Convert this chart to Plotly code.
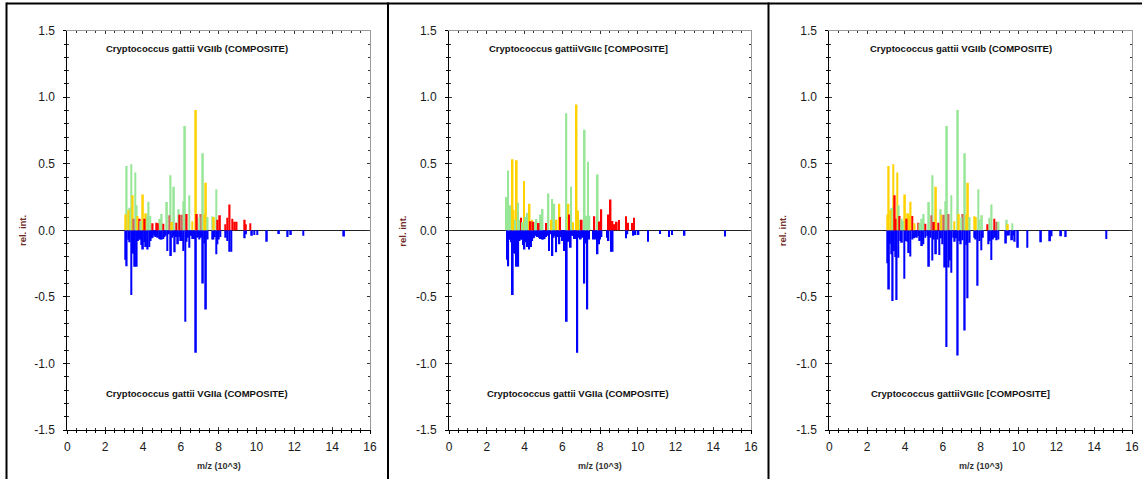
import plotly.graph_objects as go

# ---------------------------------------------------------------
# Peak lists: m/z in units of 10^3, relative intensity
# ---------------------------------------------------------------

# C. gattii VGIIb composite spectrum (upper trace of panels 1 and 3)
vgiib_mz = [3.09, 3.14, 3.22, 3.31, 3.38, 3.46, 3.51, 3.59, 3.67, 3.72,
            3.83, 3.89, 4.00, 4.09, 4.16, 4.23, 4.30, 4.39, 4.51, 4.72,
            4.79, 4.90, 4.99, 5.07, 5.27, 5.39, 5.46, 5.53, 5.64, 5.76,
            5.89, 5.93, 6.05, 6.13, 6.22, 6.31, 6.45, 6.61, 6.80, 6.85,
            6.98, 7.05, 7.17, 7.24, 7.33, 7.42, 7.68, 7.75, 7.88, 7.94,
            8.07, 8.35, 8.46, 8.58, 8.72, 8.85, 8.95, 9.38, 9.44, 9.67]
vgiib_int = [0.120, 0.483, 0.153, 0.170, 0.496, 0.263, 0.088, 0.434, 0.188, 0.108,
             0.088, 0.070, 0.270, 0.088, 0.128, 0.113, 0.215, 0.108, 0.053, 0.058,
             0.053, 0.088, 0.123, 0.050, 0.213, 0.113, 0.414, 0.063, 0.328, 0.058,
             0.158, 0.117, 0.117, 0.218, 0.784, 0.123, 0.263, 0.068, 0.905, 0.123,
             0.098, 0.123, 0.579, 0.120, 0.358, 0.100, 0.105, 0.100, 0.308, 0.080,
             0.113, 0.045, 0.095, 0.195, 0.088, 0.065, 0.065, 0.080, 0.045, 0.053]
# match class of each VGIIb peak against VGIIa (panel 1)
vgiib_vs_vgiia = ["Y", "G", "Y", "G", "G", "Y", "B", "G", "G", "Y",
                  "R", "G", "Y", "R", "Y", "G", "G", "G", "R", "R",
                  "R", "G", "G", "R", "G", "B", "G", "Y", "G", "R",
                  "G", "R", "B", "G", "G", "R", "G", "Y", "Y", "R",
                  "G", "B", "G", "Y", "Y", "G", "G", "Y", "G", "R",
                  "R", "R", "R", "R", "R", "R", "R", "R", "R", "R"]
# match class of each VGIIb peak against VGIIc (panel 3)
vgiib_vs_vgiic = ["Y", "Y", "Y", "G", "Y", "R", "R", "Y", "G", "R",
                  "G", "G", "Y", "R", "Y", "Y", "Y", "R", "Y", "R",
                  "G", "G", "G", "R", "G", "B", "G", "R", "Y", "R",
                  "G", "Y", "B", "G", "G", "B", "G", "Y", "G", "Y",
                  "G", "B", "G", "Y", "Y", "G", "Y", "Y", "G", "G",
                  "G", "R", "G", "G", "R", "B", "G", "G", "Y", "G"]

# C. gattii VGIIc composite spectrum (upper trace of panel 2)
vgiic_mz = [3.04, 3.13, 3.18, 3.23, 3.37, 3.43, 3.50, 3.59, 3.66, 3.72,
            3.82, 3.90, 3.97, 4.05, 4.14, 4.27, 4.33, 4.40, 4.47, 4.56,
            4.64, 4.75, 4.86, 4.96, 5.14, 5.27, 5.43, 5.47, 5.58, 5.70,
            5.85, 5.88, 6.22, 6.33, 6.36, 6.46, 6.57, 6.76, 6.84, 6.95,
            7.03, 7.19, 7.26, 7.36, 7.44, 7.70, 7.88, 7.96, 8.07, 8.43,
            8.56, 8.66, 8.75, 8.89, 9.00, 9.38, 9.48, 9.70, 9.81]
vgiic_int = [0.250, 0.450, 0.080, 0.188, 0.534, 0.155, 0.080, 0.526, 0.207, 0.080,
             0.095, 0.060, 0.370, 0.100, 0.130, 0.200, 0.068, 0.080, 0.065, 0.060,
             0.085, 0.055, 0.120, 0.160, 0.055, 0.277, 0.080, 0.236, 0.200, 0.080,
             0.200, 0.100, 0.880, 0.200, 0.120, 0.328, 0.060, 0.945, 0.150, 0.080,
             0.080, 0.755, 0.110, 0.515, 0.110, 0.105, 0.420, 0.067, 0.158, 0.120,
             0.232, 0.070, 0.045, 0.065, 0.078, 0.105, 0.058, 0.055, 0.095]
# match class of each VGIIc peak against VGIIa (panel 2)
vgiic_vs_vgiia = ["G", "G", "G", "G", "Y", "Y", "G", "Y", "G", "G",
                  "R", "G", "Y", "G", "G", "Y", "R", "Y", "R", "G",
                  "G", "R", "G", "G", "R", "G", "Y", "G", "G", "Y",
                  "Y", "R", "G", "Y", "R", "G", "Y", "Y", "Y", "G",
                  "R", "G", "G", "G", "G", "R", "G", "R", "R", "R",
                  "R", "R", "R", "R", "R", "R", "R", "R", "R"]

# C. gattii VGIIa composite spectrum (lower trace of panels 1 and 2)
vgiia_mz = [3.07, 3.14, 3.22, 3.30, 3.38, 3.45, 3.51, 3.58, 3.67, 3.74,
            3.80, 3.85, 3.93, 4.00, 4.07, 4.16, 4.25, 4.34, 4.41, 4.47,
            4.52, 4.58, 4.63, 4.68, 4.74, 4.79, 4.86, 4.93, 5.00, 5.07,
            5.14, 5.21, 5.29, 5.37, 5.48, 5.55, 5.62, 5.68, 5.75, 5.85,
            5.92, 5.99, 6.06, 6.13, 6.24, 6.31, 6.38, 6.45, 6.52, 6.58,
            6.65, 6.72, 6.80, 6.87, 6.93, 6.98, 7.04, 7.10, 7.17, 7.24,
            7.33, 7.42, 7.66, 7.73, 7.80, 7.87, 7.94, 8.01, 8.08, 8.38,
            8.45, 8.58, 8.67, 9.38, 9.45, 9.76, 9.88, 10.04, 10.55, 11.19,
            11.65, 11.82, 12.48, 14.63]
vgiia_int = [-0.220, -0.270, -0.070, -0.090, -0.486, -0.170, -0.175, -0.273, -0.273, -0.080,
             -0.050, -0.070, -0.110, -0.143, -0.090, -0.125, -0.143, -0.125, -0.080, -0.060,
             -0.055, -0.030, -0.040, -0.050, -0.040, -0.055, -0.065, -0.068, -0.068, -0.065,
             -0.050, -0.040, -0.155, -0.030, -0.193, -0.055, -0.040, -0.165, -0.050, -0.105,
             -0.050, -0.080, -0.080, -0.155, -0.687, -0.085, -0.055, -0.130, -0.040, -0.040,
             -0.065, -0.065, -0.920, -0.055, -0.050, -0.068, -0.055, -0.050, -0.400, -0.098,
             -0.594, -0.068, -0.068, -0.068, -0.050, -0.180, -0.105, -0.068, -0.050, -0.055,
             -0.080, -0.160, -0.160, -0.060, -0.030, -0.040, -0.035, -0.035, -0.085, -0.027,
             -0.050, -0.035, -0.040, -0.047]

# C. gattii VGIIc composite spectrum as lower trace of panel 3
vgiic_ref_mz = [3.09, 3.155, 3.21, 3.28, 3.35, 3.42, 3.49, 3.56, 3.65, 3.75,
                3.84, 3.97, 4.05, 4.12, 4.20, 4.28, 4.39, 4.48, 4.56, 4.63,
                4.72, 4.79, 4.90, 4.97, 5.07, 5.18, 5.27, 5.36, 5.45, 5.53,
                5.64, 5.71, 5.81, 5.90, 5.99, 6.12, 6.20, 6.31, 6.38, 6.45,
                6.55, 6.63, 6.70, 6.79, 6.87, 6.95, 7.05, 7.16, 7.24, 7.31,
                7.42, 7.68, 7.75, 7.84, 7.95, 8.03, 8.12, 8.42, 8.49, 8.56,
                8.65, 8.76, 8.85, 8.93, 9.34, 9.41, 9.50, 9.66, 9.73, 9.80,
                9.97, 10.47, 11.19, 11.67, 11.75, 12.25, 12.50, 14.64]
vgiic_ref_int = [-0.248, -0.444, -0.100, -0.180, -0.531, -0.155, -0.200, -0.524, -0.205, -0.080,
                 -0.093, -0.363, -0.080, -0.085, -0.170, -0.197, -0.068, -0.060, -0.050, -0.055,
                 -0.043, -0.080, -0.118, -0.105, -0.055, -0.043, -0.273, -0.055, -0.226, -0.068,
                 -0.180, -0.068, -0.185, -0.060, -0.105, -0.280, -0.877, -0.280, -0.226, -0.318,
                 -0.055, -0.085, -0.060, -0.940, -0.080, -0.105, -0.075, -0.752, -0.110, -0.511,
                 -0.093, -0.055, -0.068, -0.416, -0.080, -0.150, -0.055, -0.105, -0.080, -0.223,
                 -0.068, -0.055, -0.075, -0.068, -0.098, -0.038, -0.038, -0.075, -0.038, -0.085,
                 -0.130, -0.130, -0.090, -0.082, -0.045, -0.045, -0.050, -0.065]

panel_top_titles = ["Cryptococcus gattii VGIIb (COMPOSITE)",
                    "Cryptococcus gattiiVGIIc [COMPOSITE]",
                    "Cryptococcus gattii VGIIb (COMPOSITE)"]
panel_bottom_titles = ["Cryptococcus gattii VGIIa (COMPOSITE)",
                       "Cryptococcus gattii VGIIa (COMPOSITE)",
                       "Cryptococcus gattiiVGIIc [COMPOSITE]"]

x_tickvals = [0, 2, 4, 6, 8, 10, 12, 14, 16]
y_tickvals = [-1.5, -1.0, -0.5, 0.0, 0.5, 1.0, 1.5]
y_ticktext = ["-1.5", "-1.0", "-0.5", "0.0", "0.5", "1.0", "1.5"]

CLASS_COLORS = {"G": "#98E698", "Y": "#FFD200", "R": "#FF0000", "B": "#CC6A5A"}
NEG_COLOR = "#0000FF"

panels = [
    (vgiib_mz, vgiib_int, vgiib_vs_vgiia, vgiia_mz, vgiia_int),
    (vgiic_mz, vgiic_int, vgiic_vs_vgiia, vgiia_mz, vgiia_int),
    (vgiib_mz, vgiib_int, vgiib_vs_vgiic, vgiic_ref_mz, vgiic_ref_int),
]

W, H = 1142, 479
x_domains = [(67.3, 370.0), (449.0, 751.0), (829.3, 1132.0)]
y_dom = [1 - 430.0 / H, 1 - 30.7 / H]

FONT = "Liberation Sans, Arial, sans-serif"
BAR_W = 0.09

fig = go.Figure()
layout = dict(
    width=W, height=H, autosize=False,
    margin=dict(l=0, r=0, t=0, b=0, pad=0),
    paper_bgcolor="white", plot_bgcolor="white",
    barmode="overlay", showlegend=False,
    font=dict(family=FONT, color="#1a1a1a"),
)
annotations = []
shapes = []


def by_height(xs, ys, cs=None):
    order = sorted(range(len(xs)), key=lambda k: -abs(ys[k]))
    xs2 = [xs[k] for k in order]
    ys2 = [ys[k] for k in order]
    if cs is None:
        return xs2, ys2
    return xs2, ys2, [cs[k] for k in order]


for i, (tmz, tint, tcls, bmz, bint) in enumerate(panels):
    n = i + 1
    ov = i + 4
    xa = "x" if n == 1 else f"x{n}"
    ya = "y" if n == 1 else f"y{n}"
    xkey = "xaxis" if n == 1 else f"xaxis{n}"
    ykey = "yaxis" if n == 1 else f"yaxis{n}"
    dom = [x_domains[i][0] / W, x_domains[i][1] / W]

    # lower (reference) spectrum
    bx, by = by_height(bmz, bint)
    fig.add_trace(go.Bar(x=bx, y=by, width=BAR_W, marker=dict(color=NEG_COLOR, line_width=0),
                         xaxis=xa, yaxis=ya, hoverinfo="x+y"))
    # upper spectrum coloured by match class
    tx, ty, tc = by_height(tmz, tint, tcls)
    fig.add_trace(go.Bar(x=tx, y=ty, width=BAR_W,
                         marker=dict(color=[CLASS_COLORS[c] for c in tc], line_width=0),
                         xaxis=xa, yaxis=ya, hoverinfo="x+y"))
    # empty trace that carries the overlay axes (outer ticks + labels)
    fig.add_trace(go.Scatter(x=[], y=[], xaxis=f"x{ov}", yaxis=f"y{ov}", hoverinfo="skip"))

    # frame: grey lines with inward ticks on all four sides
    layout[xkey] = dict(
        domain=dom, range=[0, 16], anchor=ya, showgrid=False, zeroline=False,
        automargin=False,
        showline=True, linecolor="#9a9a9a", linewidth=1, mirror="ticks",
        tickmode="array", tickvals=x_tickvals, ticks="inside", ticklen=3,
        tickcolor="#333333", tickwidth=1, showticklabels=False,
        minor=dict(tickmode="linear", tick0=0, dtick=0.5, ticks="inside",
                   ticklen=2, tickcolor="#333333"),
    )
    layout[ykey] = dict(
        domain=y_dom, range=[-1.5, 1.5], anchor=xa, showgrid=False,
        automargin=False,
        zeroline=True, zerolinecolor="#222222", zerolinewidth=1,
        showline=True, linecolor="#9a9a9a", linewidth=1, mirror="ticks",
        tickmode="array", tickvals=y_tickvals, ticks="inside", ticklen=3,
        tickcolor="#333333", tickwidth=1, showticklabels=False,
        minor=dict(tickmode="linear", tick0=0, dtick=0.1, ticks="inside",
                   ticklen=2, tickcolor="#333333"),
    )
    # black bottom/left axes with outward ticks and labels
    layout[f"xaxis{ov}"] = dict(
        overlaying=xa, anchor=f"y{ov}", range=[0, 16], side="bottom",
        automargin=False,
        showgrid=False, zeroline=False, showline=True, linecolor="black", linewidth=1,
        tickmode="array", tickvals=x_tickvals, ticks="outside", ticklen=3,
        tickcolor="black", ticklabelstandoff=3,
        tickfont=dict(size=12, family=FONT, color="#1a1a1a"),
        minor=dict(tickmode="linear", tick0=0, dtick=0.5, ticks="outside",
                   ticklen=2, tickcolor="black"),
    )
    layout[f"yaxis{ov}"] = dict(
        overlaying=ya, anchor=f"x{ov}", range=[-1.5, 1.5], side="left",
        automargin=False,
        showgrid=False, zeroline=False, showline=True, linecolor="black", linewidth=1,
        tickmode="array", tickvals=y_tickvals, ticktext=y_ticktext,
        ticks="outside", ticklen=3, tickcolor="black", ticklabelstandoff=6,
        tickfont=dict(size=12, family=FONT, color="#1a1a1a"),
        minor=dict(tickmode="linear", tick0=0, dtick=0.1, ticks="outside",
                   ticklen=2, tickcolor="black"),
    )

    title_x = 6.86 if i < 2 else 6.94
    for ty_, txt in ((1.37, panel_top_titles[i]), (-1.225, panel_bottom_titles[i])):
        annotations.append(dict(x=title_x, y=ty_, xref=xa, yref=ya, text=f"<b>{txt}</b>",
                                showarrow=False, font=dict(size=9.5, family=FONT, color="#111111"),
                                xanchor="center", yanchor="middle"))
    # axis titles
    rel_x = [23.0, 402.7, 783.3][i]
    annotations.append(dict(x=rel_x / W, y=1 - 231.0 / H, xref="paper", yref="paper",
                            text="<b>rel. int.</b>", textangle=-90, showarrow=False,
                            font=dict(size=9.5, family=FONT, color="#6e2a24"),
                            xanchor="center", yanchor="middle"))
    annotations.append(dict(x=(x_domains[i][0] + x_domains[i][1]) / 2 / W, y=1 - 466.0 / H,
                            xref="paper", yref="paper", text="<b>m/z (10^3)</b>",
                            showarrow=False, font=dict(size=9, family=FONT, color="#333333"),
                            xanchor="center", yanchor="middle"))

# page frame: top rule, left rule and the two panel dividers
frame_lines = [
    (6.5 / W, 1 - 3.5 / H, 1.0, 1 - 3.5 / H),
    (6.5 / W, 0.0, 6.5 / W, 1 - 2.5 / H),
    (388.0 / W, 0.0, 388.0 / W, 1 - 2.5 / H),
    (768.5 / W, 0.0, 768.5 / W, 1 - 2.5 / H),
]
for x0, y0, x1, y1 in frame_lines:
    shapes.append(dict(type="line", xref="paper", yref="paper", x0=x0, y0=y0, x1=x1, y1=y1,
                       line=dict(color="black", width=2)))

layout["annotations"] = annotations
layout["shapes"] = shapes
fig.update_layout(**layout)

# keep the page flush with the window so the figure sits at the origin
page_css = ("document.documentElement.style.margin='0';"
            "document.body.style.margin='0';"
            "document.body.style.overflow='hidden';")
fig.write_html("out.html", post_script=page_css)
